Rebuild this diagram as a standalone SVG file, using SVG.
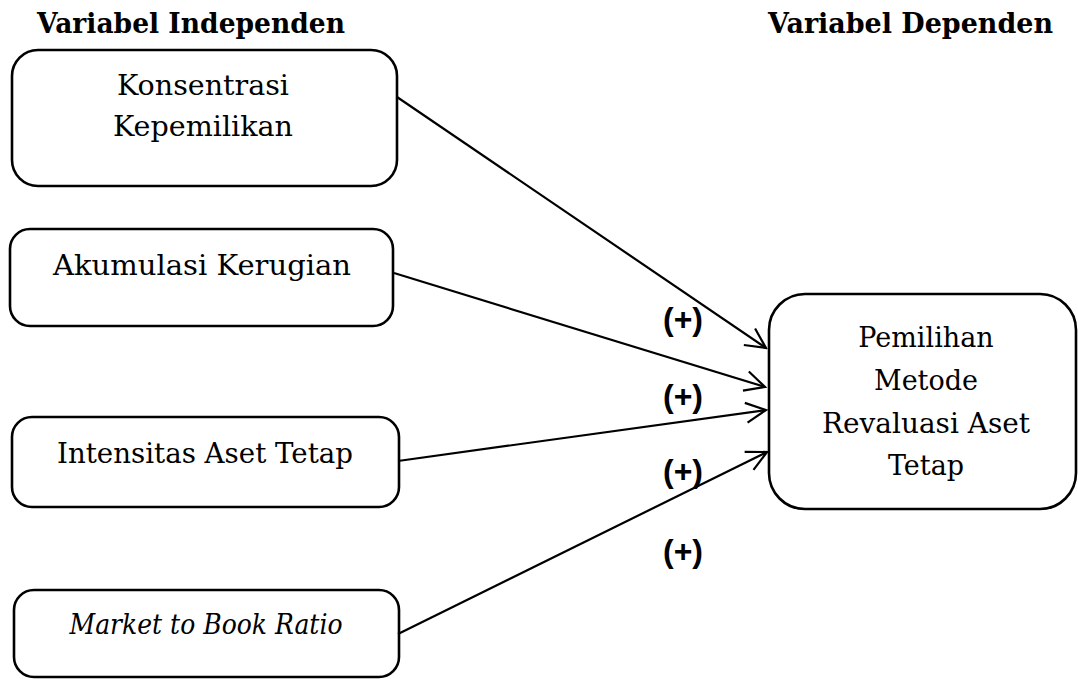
<svg xmlns="http://www.w3.org/2000/svg" width="1078" height="679" viewBox="0 0 1078 679">
<style>
.box{fill:#fff;stroke:#000;stroke-width:2.6}
.t{font-family:"DejaVu Serif","Liberation Serif",serif;font-size:27px;fill:#000;text-anchor:middle}
.h{font-family:"DejaVu Serif","Liberation Serif",serif;font-size:27px;font-weight:bold;fill:#000}
.lbl{font-family:"Liberation Sans",Arial,sans-serif;font-size:32px;font-weight:bold;fill:#000;text-anchor:middle}
.c{stroke:#000;stroke-width:2.2;fill:none;marker-end:url(#arr)}
</style>
<defs>
<marker id="arr" viewBox="0 0 24 24" refX="22" refY="12" markerWidth="24" markerHeight="24" markerUnits="userSpaceOnUse" orient="auto">
<path d="M2,2 L22,12 L2,22" fill="none" stroke="#000" stroke-width="2.2"/>
</marker>
</defs>
<text class="h" x="37" y="33" textLength="308" lengthAdjust="spacingAndGlyphs">Variabel Independen</text>
<text class="h" x="768" y="33" textLength="285" lengthAdjust="spacingAndGlyphs">Variabel Dependen</text>
<g id="konsentrasi">
<rect class="box" x="12" y="50" width="385" height="136" rx="26"/>
<text class="t" x="203" y="95" textLength="172" lengthAdjust="spacingAndGlyphs">Konsentrasi</text>
<text class="t" x="203" y="136" textLength="180" lengthAdjust="spacingAndGlyphs">Kepemilikan</text>
</g>
<g id="akumulasi">
<rect class="box" x="10" y="229" width="383" height="97" rx="20"/>
<text class="t" x="202" y="275" textLength="298" lengthAdjust="spacingAndGlyphs">Akumulasi Kerugian</text>
</g>
<g id="intensitas">
<rect class="box" x="12" y="417" width="387" height="90" rx="20"/>
<text class="t" x="205" y="463" textLength="296" lengthAdjust="spacingAndGlyphs">Intensitas Aset Tetap</text>
</g>
<g id="mbr">
<rect class="box" x="14" y="590" width="385" height="87" rx="20"/>
<text class="t" x="206" y="634" font-style="italic" textLength="273" lengthAdjust="spacingAndGlyphs">Market to Book Ratio</text>
</g>
<g id="pemilihan">
<rect class="box" x="769" y="294" width="307" height="215" rx="36"/>
<text class="t" x="926" y="347">Pemilihan</text>
<text class="t" x="926" y="390">Metode</text>
<text class="t" x="926" y="433" textLength="208" lengthAdjust="spacingAndGlyphs">Revaluasi Aset</text>
<text class="t" x="926" y="475">Tetap</text>
</g>
<g id="connectors">
<line class="c" x1="397" y1="97" x2="766" y2="348"/>
<line class="c" x1="394" y1="273" x2="765" y2="387"/>
<line class="c" x1="398" y1="461" x2="766" y2="410"/>
<line class="c" x1="398" y1="634" x2="767" y2="452"/>
</g>
<g id="labels">
<text class="lbl" x="683" y="330">(+)</text>
<text class="lbl" x="683" y="407">(+)</text>
<text class="lbl" x="683" y="482">(+)</text>
<text class="lbl" x="683" y="562">(+)</text>
</g>
</svg>
